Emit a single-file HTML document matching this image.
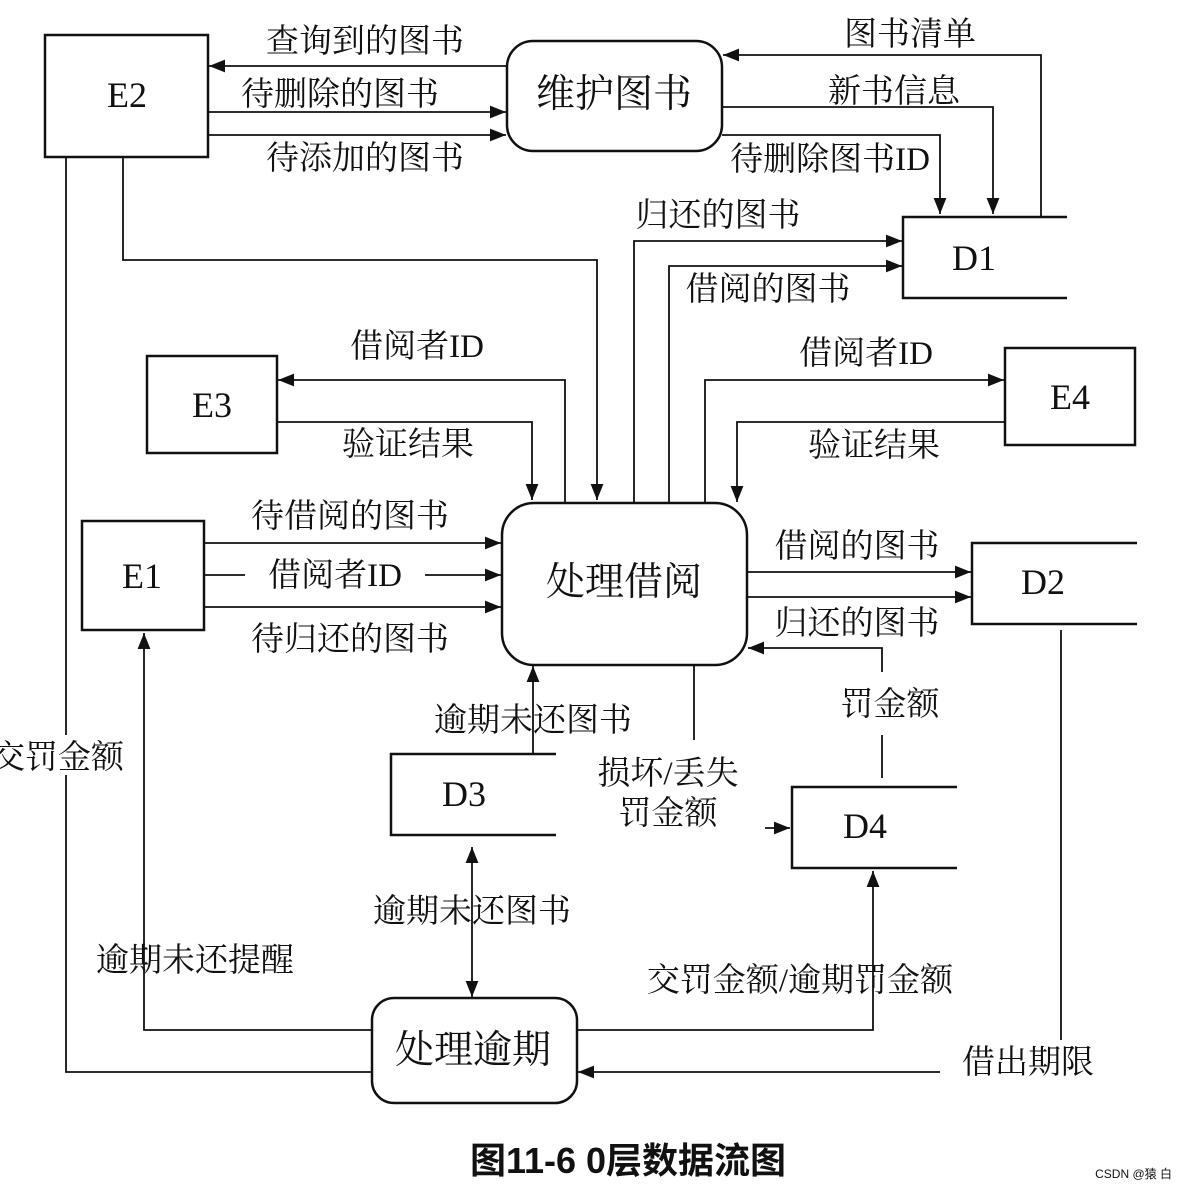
<!DOCTYPE html>
<html><head><meta charset="utf-8"><style>
body{margin:0;background:#fff}
svg text{font-family:"Liberation Serif","Noto Serif CJK SC",serif;fill:#111}
</style></head><body>
<svg width="1185" height="1189" viewBox="0 0 1185 1189" xmlns="http://www.w3.org/2000/svg">
<defs><marker id="a" viewBox="0 0 10 10" refX="10" refY="5" markerWidth="9" markerHeight="9" orient="auto-start-reverse"><path d="M0,1 L10,5 L0,9 z" fill="#111"/></marker></defs>
<g fill="none" stroke="#111" stroke-width="2.5">
<rect x="45" y="35" width="163" height="122"/>
<rect x="507" y="41" width="215" height="110" rx="26"/>
<path d="M1067,217 H903 V298 H1067"/>
<rect x="147" y="356" width="130" height="97"/>
<rect x="1005" y="348" width="130" height="97"/>
<rect x="82" y="521" width="122" height="109"/>
<rect x="502" y="503" width="245" height="162" rx="32"/>
<path d="M1137,543 H972 V624 H1137"/>
<path d="M556,754 H391 V835 H556"/>
<path d="M957,787 H792 V868 H957"/>
<rect x="372" y="998" width="205" height="105" rx="22"/>
</g>
<g fill="none" stroke="#111" stroke-width="1.8">
<path d="M507,66 H209" marker-end="url(#a)"/>
<path d="M208,112 H506" marker-end="url(#a)"/>
<path d="M208,135 H506" marker-end="url(#a)"/>
<path d="M1041,217 V55 H723" marker-end="url(#a)"/>
<path d="M722,107 H993 V214" marker-end="url(#a)"/>
<path d="M722,135 H940 V214" marker-end="url(#a)"/>
<path d="M123,157 V260 H597 V500" marker-end="url(#a)"/>
<path d="M634,503 V241 H902" marker-end="url(#a)"/>
<path d="M669,503 V266 H902" marker-end="url(#a)"/>
<path d="M565,503 V380 H278" marker-end="url(#a)"/>
<path d="M277,422 H532 V500" marker-end="url(#a)"/>
<path d="M705,503 V380 H1004" marker-end="url(#a)"/>
<path d="M1005,422 H737 V502" marker-end="url(#a)"/>
<path d="M204,543 H501" marker-end="url(#a)"/>
<path d="M204,575 H245"/>
<path d="M425,575 H501" marker-end="url(#a)"/>
<path d="M204,607 H501" marker-end="url(#a)"/>
<path d="M747,572 H971" marker-end="url(#a)"/>
<path d="M747,597 H971" marker-end="url(#a)"/>
<path d="M882,672 V648 H748" marker-end="url(#a)"/>
<path d="M882,735 V778"/>
<path d="M533,754 V666" marker-end="url(#a)"/>
<path d="M694,665 V740"/>
<path d="M765,828 H790" marker-end="url(#a)"/>
<path d="M472,847 V997" marker-start="url(#a)" marker-end="url(#a)"/>
<path d="M577,1030 H873 V871" marker-end="url(#a)"/>
<path d="M372,1030 H144 V633" marker-end="url(#a)"/>
<path d="M66,157 V1072 H372"/>
<path d="M1061,630 V1040"/>
<path d="M940,1072 H578" marker-end="url(#a)"/>
</g>
<g font-size="33" text-anchor="middle">
<text x="127" y="107" font-size="36">E2</text>
<text x="614" y="107" font-size="39">维护图书</text>
<text x="974" y="270" font-size="36">D1</text>
<text x="212" y="417" font-size="36">E3</text>
<text x="1070" y="409" font-size="36">E4</text>
<text x="142" y="588" font-size="36">E1</text>
<text x="624" y="595" font-size="39">处理借阅</text>
<text x="1043" y="594" font-size="36">D2</text>
<text x="464" y="806" font-size="36">D3</text>
<text x="865" y="838" font-size="36">D4</text>
<text x="473" y="1063" font-size="39">处理逾期</text>
<text x="365" y="52">查询到的图书</text>
<text x="340" y="105">待删除的图书</text>
<text x="365" y="169">待添加的图书</text>
<text x="910" y="45">图书清单</text>
<text x="894" y="102">新书信息</text>
<text x="830" y="170">待删除图书ID</text>
<text x="718" y="226">归还的图书</text>
<text x="768" y="300">借阅的图书</text>
<text x="417" y="357">借阅者ID</text>
<text x="408" y="455">验证结果</text>
<text x="866" y="364">借阅者ID</text>
<text x="874" y="456">验证结果</text>
<text x="350" y="527">待借阅的图书</text>
<text x="335" y="586">借阅者ID</text>
<text x="350" y="650">待归还的图书</text>
<text x="857" y="557">借阅的图书</text>
<text x="857" y="634">归还的图书</text>
<text x="890" y="715">罚金额</text>
<text x="533" y="731">逾期未还图书</text>
<text x="668" y="784">损坏/丢失</text>
<text x="668" y="824">罚金额</text>
<text x="472" y="922">逾期未还图书</text>
<text x="800" y="991">交罚金额/逾期罚金额</text>
<text x="195" y="971">逾期未还提醒</text>
<text x="1028" y="1073">借出期限</text>
</g>
<rect x="0" y="735" width="118" height="40" fill="#fff"/>
<text x="58" y="768" font-size="33" text-anchor="middle">交罚金额</text>
<text x="628" y="1173" font-size="36" font-weight="bold" text-anchor="middle" style="font-family:'Liberation Sans','Noto Sans CJK SC',sans-serif" fill="#333">图11-6 0层数据流图</text>
<text x="1172" y="1178" font-size="12" text-anchor="end" style="font-family:'Liberation Sans','Noto Sans CJK SC',sans-serif" fill="#999">CSDN @猿 白</text>
</svg>
</body></html>
